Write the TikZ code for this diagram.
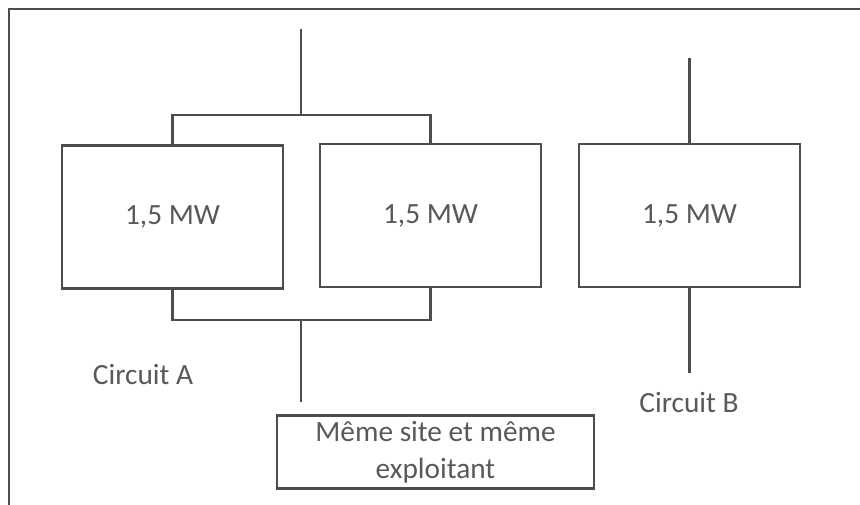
\documentclass[tikz,border=0pt]{standalone}
\usepackage{fontspec}
\setmainfont{Carlito}
\definecolor{linegray}{HTML}{4D4D4D}
\definecolor{textgray}{HTML}{595959}
\begin{document}
\begin{tikzpicture}[x=0.75pt,y=-0.75pt,
  line width=1.6pt, draw=linegray,
  txt/.style={text=textgray, font=\fontsize{22}{28}\selectfont, inner sep=0pt},
  mwbox/.style={draw=linegray, line width=1.6pt, minimum width=165.75pt, minimum height=107.25pt, txt},
  sitebox/.style={draw=linegray, line width=1.6pt, minimum width=237.75pt, minimum height=54.75pt, txt, align=center},
  wire/.style={draw=linegray, line width=1.6pt}]
\useasboundingbox (0,0) rectangle (860,505);
\fill[white] (0,0) rectangle (860,505);
% frame
\draw[wire] (9,505) -- (9,9) -- (860,9);
% boxes
\node[mwbox] (b1) at (172.5,217) {1,5 MW};
\node[mwbox] (b2) at (430.5,215.5) {1,5 MW};
\node[mwbox] (b3) at (689.5,215.5) {1,5 MW};
\node[sitebox] (site) at (435.5,452) {Même site et même\\exploitant};
% labels
\node[txt] (ca) at (143,375) {Circuit A};
\node[txt] (cb) at (689,403) {Circuit B};
% coordinates
\coordinate (jt) at (301,115);
\coordinate (tt) at (301,29);
\coordinate (jb) at (301,320);
\coordinate (bb) at (301,402);
\coordinate (t3) at (689.5,58);
\coordinate (e3) at (689.5,373);
% wires
\draw[wire] (b1.north) |- (jt) -| (b2.north);
\draw[wire] (jt) -- (tt);
\draw[wire] (b1.south) |- (jb) -| (b2.south);
\draw[wire] (jb) -- (bb);
\draw[wire] (b3.north) -- (t3);
\draw[wire] (b3.south) -- (e3);
\end{tikzpicture}
\end{document}
